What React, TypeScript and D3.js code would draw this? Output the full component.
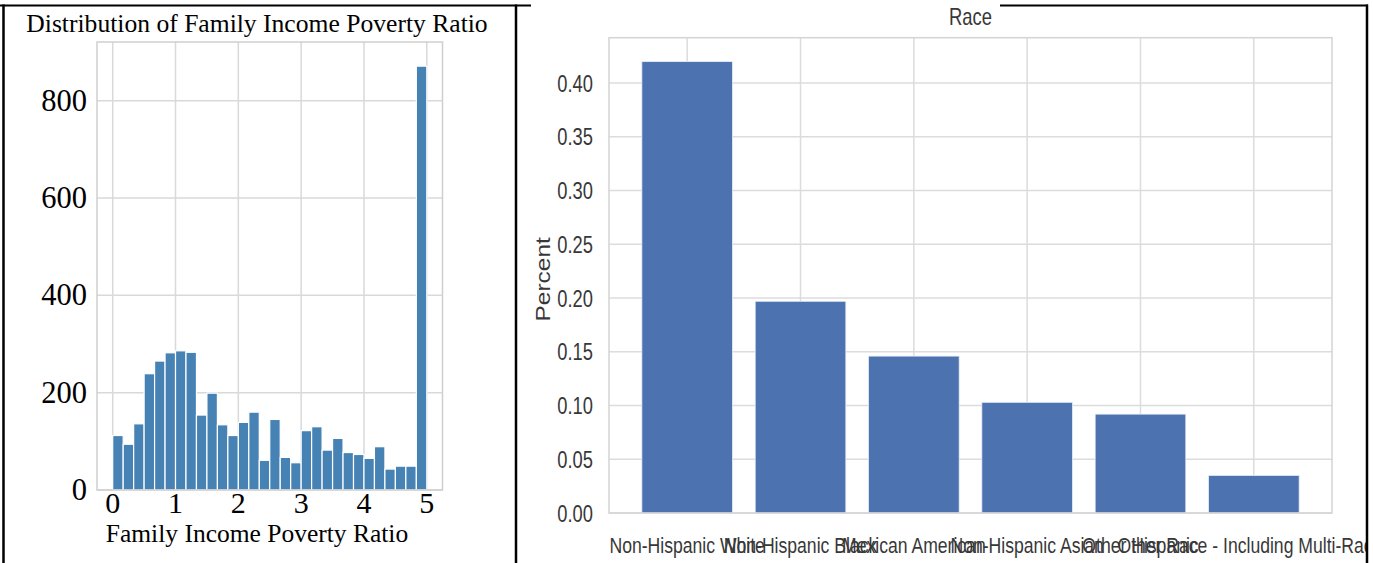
import React from "react";
import * as d3 from "d3";

// ---- Left panel data: histogram of Family Income Poverty Ratio (30 bins over 0..5)
const incomeBinCounts = [112, 94, 136, 239, 265, 282, 286, 283, 154, 199, 134, 112, 139, 160, 61, 145, 67, 56, 122, 130, 82, 106, 77, 73, 65, 89, 43, 49, 49, 871];
const incomeRange = [0, 5];
const incomeTicks = [0, 1, 2, 3, 4, 5];
const countTicks = [0, 200, 400, 600, 800];

// ---- Right panel data: Race share
const raceCategories = [
  "Non-Hispanic White",
  "Non-Hispanic Black",
  "Mexican American",
  "Non-Hispanic Asian",
  "Other Hispanic",
  "Other Race - Including Multi-Racial",
];
const racePercent = [0.42, 0.197, 0.146, 0.103, 0.092, 0.035];
const percentTicks = [0, 0.05, 0.1, 0.15, 0.2, 0.25, 0.3, 0.35, 0.4];

const W = 1373;
const H = 563;

function LeftPanel() {
  const px0 = 97, px1 = 442.5, py0 = 42, py1 = 490;
  const nb = incomeBinCounts.length;
  const bw = (incomeRange[1] - incomeRange[0]) / nb;
  const pad = (incomeRange[1] - incomeRange[0]) * 0.05;
  const x = d3.scaleLinear().domain([incomeRange[0] - pad, incomeRange[1] + pad]).range([px0, px1]);
  const ymax = (d3.max(incomeBinCounts) as number) * 1.057;
  const y = d3.scaleLinear().domain([0, ymax]).range([py1, py0]);
  const grid = "#d9d9d9";
  const serif = "'Liberation Serif', 'Times New Roman', serif";
  return (
    <g>
      {incomeTicks.map((t) => (
        <line key={"vx" + t} x1={x(t)} x2={x(t)} y1={py0} y2={py1} stroke={grid} strokeWidth={1.5} />
      ))}
      {countTicks.map((t) => (
        <line key={"hy" + t} x1={px0} x2={px1} y1={y(t)} y2={y(t)} stroke={grid} strokeWidth={1.5} />
      ))}
      {incomeBinCounts.map((c, i) => {
        const a = incomeRange[0] + i * bw;
        const b = a + bw;
        return (
          <rect
            key={"b" + i}
            x={x(a)}
            width={x(b) - x(a)}
            y={y(c)}
            height={y(0) - y(c)}
            fill="#4682b4"
            stroke="#ffffff"
            strokeWidth={1.2}
          />
        );
      })}
      <rect x={px0} y={py0} width={px1 - px0} height={py1 - py0} fill="none" stroke="#cfcfcf" strokeWidth={1.5} />
      <text x={257} y={31.5} textAnchor="middle" fontFamily={serif} fontSize={25.6} fill="#000">
        Distribution of Family Income Poverty Ratio
      </text>
      {countTicks.map((t) => (
        <text key={"yl" + t} x={87} y={y(t) + 10} textAnchor="end" fontFamily={serif} fontSize={30.5} fill="#000">
          {t}
        </text>
      ))}
      {incomeTicks.map((t) => (
        <text key={"xl" + t} x={x(t)} y={513} textAnchor="middle" fontFamily={serif} fontSize={30} fill="#000">
          {t}
        </text>
      ))}
      <text x={257} y={542} textAnchor="middle" fontFamily={serif} fontSize={25.5} fill="#000">
        Family Income Poverty Ratio
      </text>
    </g>
  );
}

function RightPanel() {
  const px0 = 609, px1 = 1332, py0 = 37.7, py1 = 513;
  const n = raceCategories.length;
  const barW = 0.8;
  const lo = -barW / 2, hi = n - 1 + barW / 2;
  const m = (hi - lo) * 0.05;
  const x = d3.scaleLinear().domain([lo - m, hi + m]).range([px0, px1]);
  const ymax = (d3.max(racePercent) as number) * 1.053;
  const y = d3.scaleLinear().domain([0, ymax]).range([py1, py0]);
  const grid = "#dcdcdc";
  const sans = "'Liberation Sans', Arial, sans-serif";
  const tc = "#383838";
  const sx = 0.8;
  const fmt = d3.format(".2f");
  return (
    <g>
      <defs>
        <clipPath id="rclip">
          <rect x={517} y={0} width={1366 - 517} height={H} />
        </clipPath>
      </defs>
      {raceCategories.map((c, i) => (
        <line key={"vx" + i} x1={x(i)} x2={x(i)} y1={py0} y2={py1} stroke={grid} strokeWidth={1.5} />
      ))}
      {percentTicks.map((t) => (
        <line key={"hy" + t} x1={px0} x2={px1} y1={y(t)} y2={y(t)} stroke={grid} strokeWidth={1.5} />
      ))}
      {racePercent.map((v, i) => (
        <rect
          key={"b" + i}
          x={x(i - barW / 2)}
          width={x(i + barW / 2) - x(i - barW / 2)}
          y={y(v)}
          height={y(0) - y(v)}
          fill="#4c72b0"
          stroke="#e8eef7"
          strokeWidth={0.8}
        />
      ))}
      <rect x={px0} y={py0} width={px1 - px0} height={py1 - py0} fill="none" stroke="#d4d4d4" strokeWidth={1.5} />
      <g transform={`translate(${(px0 + px1) / 2},25) scale(${sx},1)`}>
        <text textAnchor="middle" fontFamily={sans} fontSize={23} fill={tc}>Race</text>
      </g>
      {percentTicks.map((t) => (
        <g key={"yl" + t} transform={`translate(593,${y(t) + 8.5}) scale(0.78,1)`}>
          <text textAnchor="end" fontFamily={sans} fontSize={23.5} fill={tc}>{fmt(t)}</text>
        </g>
      ))}
      <g transform={`translate(550,${(py0 + py1) / 2 + 4}) scale(${sx},1) rotate(-90)`}>
        <text textAnchor="middle" fontFamily={sans} fontSize={24.5} fill={tc}>Percent</text>
      </g>
      <g clipPath="url(#rclip)">
        {raceCategories.map((c, i) => (
          <g key={"xl" + i} transform={`translate(${x(i)},552.5) scale(${sx},1)`}>
            <text textAnchor="middle" fontFamily={sans} fontSize={22} fill={tc}>{c}</text>
          </g>
        ))}
      </g>
    </g>
  );
}

export default function App() {
  return (
    <svg
      width={W}
      height={H}
      viewBox={`0 0 ${W} ${H}`}
      style={{ position: "absolute", left: 0, top: 0, background: "#fff" }}
    >
      <rect x={0} y={0} width={W} height={H} fill="#fff" />
      <RightPanel />
      <LeftPanel />
      {/* frame */}
      <line x1={0} x2={531} y1={5.5} y2={5.5} stroke="#000" strokeWidth={2} />
      <line x1={1000} x2={1368} y1={5.5} y2={5.5} stroke="#000" strokeWidth={2} />
      <line x1={3.5} x2={3.5} y1={4.5} y2={H} stroke="#000" strokeWidth={2.5} />
      <line x1={516} x2={516} y1={4.5} y2={H} stroke="#000" strokeWidth={2.5} />
      <line x1={1367} x2={1367} y1={4.5} y2={H} stroke="#000" strokeWidth={2.5} />
    </svg>
  );
}
